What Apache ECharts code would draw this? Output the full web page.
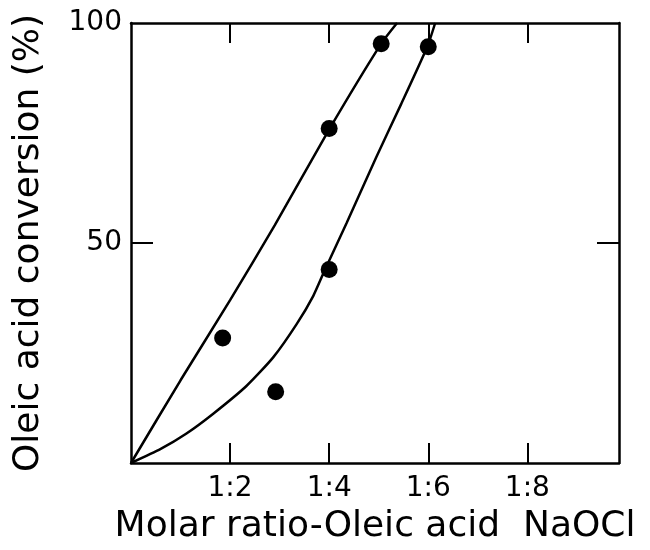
<!DOCTYPE html>
<html>
<head>
<meta charset="utf-8">
<script src="https://cdn.jsdelivr.net/npm/echarts@6/dist/echarts.min.js"></script>
<style>
html,body{margin:0;padding:0;background:#fff;}
#chart{width:650px;height:550px;}
</style>
</head>
<body>
<div id="chart"></div>
<script>
// Upper curve (fitted line)
const curveAX = [0, 1, 2, 2.9, 4, 5.05, 5.37];
const curveAY = [0, 18.8, 37, 54, 75.8, 95.3, 100];
// Lower curve (fitted line)
const curveBX = [0, 0.6, 1.12, 1.66, 2.33, 2.87, 3.34, 3.68, 3.91, 4.35, 4.95, 5.45, 5.98, 6.14];
const curveBY = [0, 3.2, 6.7, 11.2, 17.5, 24, 31.5, 38, 43.8, 54.5, 69.5, 81.5, 94.6, 100];
// Measured points
const pointX = [1.85, 2.92, 4.0, 4.0, 5.05, 6.0];
const pointY = [28.4, 16.2, 44.0, 76.0, 95.3, 94.6];
// Tick labels
const xTickValues = [2, 4, 6, 8];
const xTickLabels = ['1:2', '1:4', '1:6', '1:8'];
const yLabelValues = [50, 100];
const yTickValues = [50];

const FONT = 'DejaVu Sans';
const zip = (xs, ys) => xs.map((x, i) => [x, ys[i]]);

const axisLine = {show: true, onZero: false, lineStyle: {color: '#000', width: 2.5}};
const tickStyle = {color: '#000', width: 2};

const chart = echarts.init(document.getElementById('chart'));
chart.setOption({
  animation: false,
  backgroundColor: '#fff',
  grid: {left: 131, right: 31, top: 23, bottom: 82, containLabel: false},
  xAxis: [
    {
      type: 'value', min: 0, max: 9.85, position: 'bottom',
      axisLine: axisLine,
      axisTick: {show: true, inside: true, length: 20, lineStyle: tickStyle, customValues: xTickValues},
      axisLabel: {
        show: true, customValues: xTickValues, margin: 12,
        fontFamily: FONT, fontSize: 28, color: '#000',
        formatter: v => xTickLabels[xTickValues.indexOf(v)] || ''
      },
      splitLine: {show: false},
      name: 'Molar ratio-Oleic acid  NaOCl',
      nameLocation: 'middle', nameGap: 46,
      nameTextStyle: {fontFamily: FONT, fontSize: 36, color: '#000'}
    },
    {
      type: 'value', min: 0, max: 9.85, position: 'top',
      axisLine: axisLine,
      axisTick: {show: true, inside: true, length: 20, lineStyle: tickStyle, customValues: xTickValues},
      axisLabel: {show: false},
      splitLine: {show: false}
    }
  ],
  yAxis: [
    {
      type: 'value', min: 0, max: 100, position: 'left',
      axisLine: axisLine,
      axisTick: {show: true, inside: true, length: 22, lineStyle: tickStyle, customValues: yTickValues},
      axisLabel: {
        show: true, customValues: yLabelValues, margin: 9,
        fontFamily: FONT, fontSize: 28, color: '#000'
      },
      splitLine: {show: false},
      name: 'Oleic acid conversion (%)',
      nameLocation: 'middle', nameGap: 84,
      nameTextStyle: {fontFamily: FONT, fontSize: 36, color: '#000'}
    },
    {
      type: 'value', min: 0, max: 100, position: 'right',
      axisLine: axisLine,
      axisTick: {show: true, inside: true, length: 22, lineStyle: tickStyle, customValues: yTickValues},
      axisLabel: {show: false},
      splitLine: {show: false}
    }
  ],
  series: [
    {
      type: 'line', data: zip(curveAX, curveAY), smooth: 0.2,
      symbol: 'none', lineStyle: {color: '#000', width: 2.5}, clip: true
    },
    {
      type: 'line', data: zip(curveBX, curveBY), smooth: 0.2,
      symbol: 'none', lineStyle: {color: '#000', width: 2.5}, clip: true
    },
    {
      type: 'scatter', data: zip(pointX, pointY), symbol: 'circle', symbolSize: 17,
      itemStyle: {color: '#000', opacity: 1}, z: 5
    }
  ]
});
</script>
</body>
</html>
